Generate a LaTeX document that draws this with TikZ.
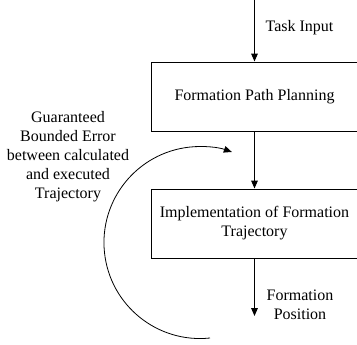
\documentclass[tikz,border=0pt]{standalone}
\usepackage{fontspec}
\setmainfont{Liberation Serif}
\usepackage{tikz}
\usetikzlibrary{arrows.meta, positioning, calc}

\begin{document}
\begin{tikzpicture}[x=0.75pt, y=0.75pt, >={Triangle[width=5pt, length=6pt]},
    block/.style={draw, line width=0.75pt, minimum width=207*0.75pt, minimum height=69*0.75pt, inner sep=0pt, align=center},
    lbl/.style={align=center, font=\fontsize{12}{14.3}\selectfont}]
    \useasboundingbox (0,0) rectangle (357,-344);

    % main chain
    \coordinate (taskin) at (254.5,0);
    \node[block, lbl] (plan) at (254.5,-96.5) {Formation Path Planning};
    \node[block, lbl] (impl) at (254.5,-223.5) {Implementation of Formation\\Trajectory};
    \coordinate (formout) at (254.5,-316);

    \draw[->, line width=0.75pt] (taskin) -- (plan.north);
    \draw[->, line width=0.75pt] (plan.south) -- (impl.north);
    \draw[->, line width=0.75pt] (impl.south) -- (formout);

    \node[lbl] (tasklbl) at (299.5,-28) {Task Input};
    \node[lbl] (outlbl) at (300,-304.5) {Formation\\Position};

    % feedback loop
    \coordinate (loopstart) at (210,-338);
    \draw[->, line width=0.6pt] (loopstart) arc[start angle=-84, end angle=-289.4, radius=96];

    \node[lbl] (errlbl) at (68,-157) {Guaranteed\\Bounded Error\\between calculated\\and executed\\Trajectory};
\end{tikzpicture}
\end{document}
